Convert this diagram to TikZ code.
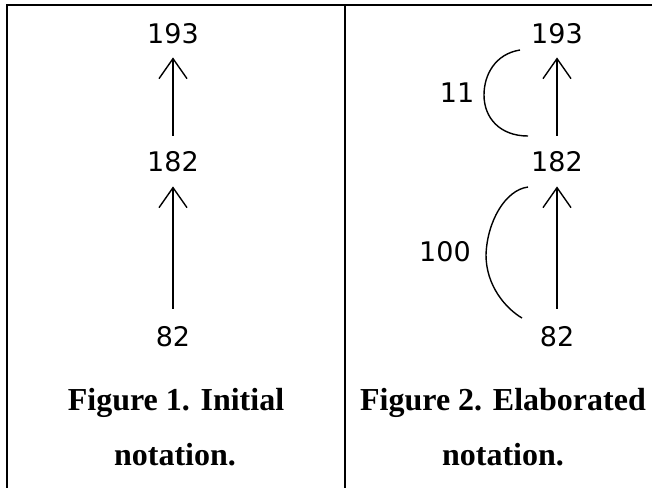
\documentclass[tikz,border=0pt]{standalone}
\usepackage{fontspec}
\setmainfont{Liberation Serif}
\newfontfamily\numfont{DejaVu Sans}
\usetikzlibrary{arrows.meta}
\tikzset{
  num/.style={inner sep=0pt, font=\numfont\fontsize{27}{30}\selectfont},
  captext/.style={inner sep=0pt, anchor=base, font=\bfseries\fontsize{32}{36}\selectfont},
  arr/.style={line width=1.4pt, -{Straight Barb[length=20pt,width=28pt,line width=1.4pt]}},
  brace/.style={line width=1.4pt},
  tablerule/.style={line width=2pt}
}
\begin{document}
\begin{tikzpicture}[x=1pt,y=-1pt]
\useasboundingbox (0,0) rectangle (652,488);
% table rules
\draw[tablerule] (6,5) -- (652,5);
\draw[tablerule] (7,4) -- (7,488);
\draw[tablerule] (345,4) -- (345,488);
% panel 1
\node[num] (a193) at (173,34) {193};
\node[num] (a182) at (173,162) {182};
\node[num] (a82) at (173,337) {82};
\draw[arr, shorten <=16pt, shorten >=13pt] (a182.north) -- (a193.south);
\draw[arr, shorten <=18pt, shorten >=14pt] (a82.north) -- (a182.south);
\node[captext] (c1a) at (176,410) {Figure 1. Initial};
\node[captext] (c1b) at (175,465) {notation.};
% panel 2
\node[num] (b193) at (557,34) {193};
\node[num] (b182) at (557,162) {182};
\node[num] (b82) at (557,337) {82};
\draw[arr, shorten <=16pt, shorten >=13pt] (b182.north) -- (b193.south);
\draw[arr, shorten <=18pt, shorten >=14pt] (b82.north) -- (b182.south);
\coordinate (s11a) at (520,50);
\coordinate (s11b) at (528,136);
\draw[brace] (s11a) .. controls (495,54) and (484,75) .. (484,95)
  .. controls (484,118) and (500,136) .. (s11b);
\node[num] (l11) at (457,93) {11};
\coordinate (s100a) at (528,187);
\coordinate (s100b) at (522,318);
\draw[brace] (s100a) .. controls (505,190) and (487,222) .. (486,255)
  .. controls (486,285) and (505,308) .. (s100b);
\node[num] (l100) at (445,252) {100};
\node[captext] (c2a) at (503,410) {Figure 2. Elaborated};
\node[captext] (c2b) at (503,465) {notation.};
\end{tikzpicture}
\end{document}
